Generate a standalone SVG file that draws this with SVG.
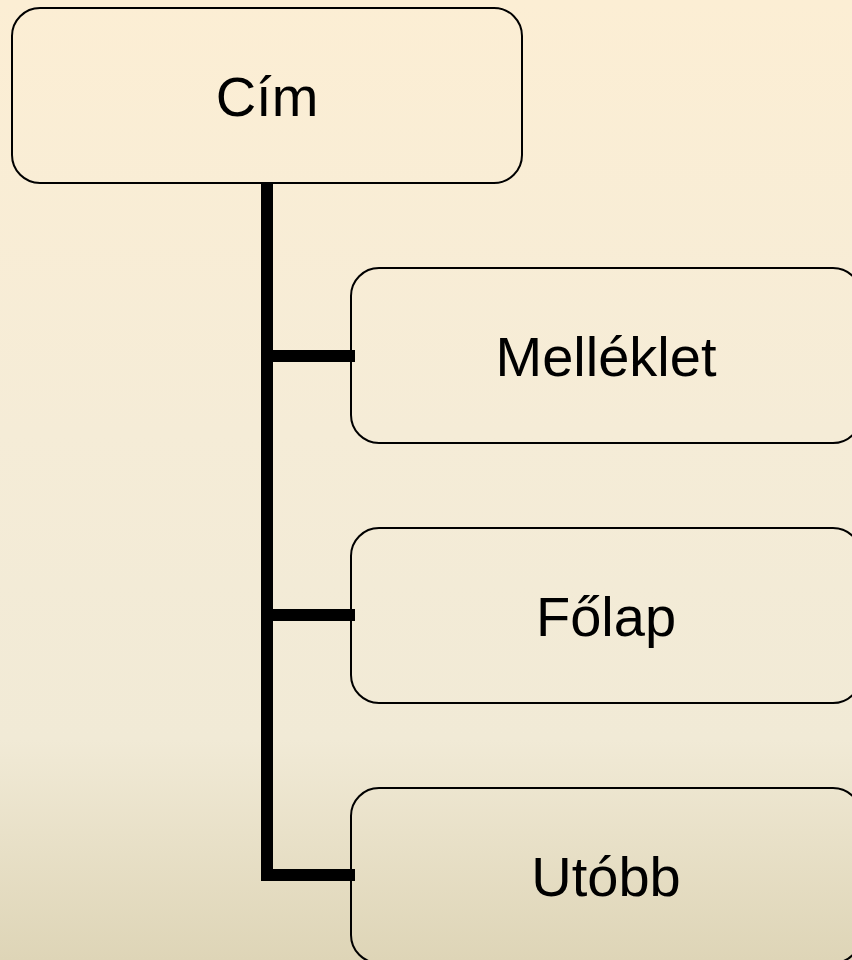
<svg xmlns="http://www.w3.org/2000/svg" width="852" height="960" viewBox="0 0 852 960">
<defs>
<linearGradient id="bg" gradientUnits="userSpaceOnUse" x1="0" y1="0" x2="0" y2="960">
<stop offset="0" stop-color="#FCEED4"/>
<stop offset="0.45" stop-color="#F5ECD7"/>
<stop offset="0.77" stop-color="#F1EAD6"/>
<stop offset="1" stop-color="#DED5B7"/>
</linearGradient>
<style>
.box{fill:url(#bg);stroke:#000;stroke-width:2}
.lbl{font-family:"Liberation Sans",Arial,sans-serif;font-size:56px;fill:#000;text-anchor:middle}
.conn{stroke:#000;stroke-width:12;fill:none}
</style>
</defs>
<rect x="0" y="0" width="852" height="960" fill="url(#bg)"/>
<g id="node-cim">
<rect class="box" x="12" y="8" width="510" height="175" rx="28" ry="28"/>
<text class="lbl" x="267" y="116">Cím</text>
</g>
<g id="node-melleklet">
<rect class="box" x="351" y="268" width="510" height="175" rx="28" ry="28"/>
<text class="lbl" x="606" y="376">Melléklet</text>
</g>
<g id="node-folap">
<rect class="box" x="351" y="528" width="510" height="175" rx="28" ry="28"/>
<text class="lbl" x="606" y="636">Főlap</text>
</g>
<g id="node-utobb">
<rect class="box" x="351" y="788" width="510" height="175" rx="28" ry="28"/>
<text class="lbl" x="606" y="896">Utóbb</text>
</g>
<g id="connectors">
<line class="conn" x1="267" y1="182" x2="267" y2="881"/>
<line class="conn" x1="261" y1="356" x2="355" y2="356"/>
<line class="conn" x1="261" y1="615" x2="355" y2="615"/>
<line class="conn" x1="261" y1="875" x2="355" y2="875"/>
</g>
</svg>
